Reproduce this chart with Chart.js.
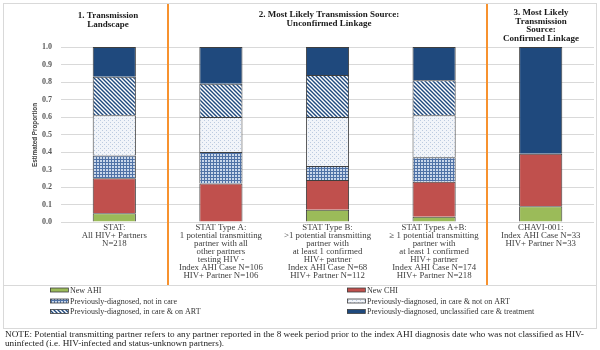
<!DOCTYPE html>
<html>
<head>
<meta charset="utf-8">
<script src="https://cdn.jsdelivr.net/npm/chart.js@4.4.1/dist/chart.umd.min.js"></script>
<style>
  html, body { margin: 0; padding: 0; background: #fff; }
  #wrap { position: relative; width: 600px; height: 350px; overflow: hidden; }
  #chart { position: absolute; left: 0; top: 0; }
  #note {
    position: absolute; left: 5px; top: 330px; width: 594px;
    font: 9.2px "Liberation Serif", "Times New Roman", serif;
    line-height: 8.5px; color: #222; white-space: nowrap;
  }
</style>
</head>
<body>
<div id="wrap">
  <canvas id="chart" width="600" height="330"></canvas>
  <div id="note">NOTE: Potential transmitting partner refers to any partner reported in the 8 week period prior to the index AHI diagnosis date who was not classified as HIV-<br>uninfected (i.e. HIV-infected and status-unknown partners).</div>
</div>
<script>
const categories = [
  ["STAT:", "All HIV+ Partners", "N=218"],
  ["STAT Type A:", "1 potential transmitting", "partner with all", "other partners", "testing HIV -", "Index AHI Case N=106", "HIV+ Partner N=106"],
  ["STAT Type B:", ">1 potential transmitting", "partner with", "at least 1 confirmed", "HIV+ partner", "Index AHI Case N=68", "HIV+ Partner N=112"],
  ["STAT Types A+B:", "\u2265 1 potential transmitting", "partner with", "at least 1 confirmed", "HIV+ partner", "Index AHI Case N=174", "HIV+ Partner N=218"],
  ["CHAVI-001:", "Index AHI Case N=33", "HIV+ Partner N=33"]
];

const newAHI       = [0.05, null, 0.07, 0.03, 0.09];
const newCHI       = [0.20, 0.22, 0.17, 0.20, 0.30];
const notInCare    = [0.13, 0.18, 0.08, 0.14, null];
const careNoART    = [0.23, 0.20, 0.28, 0.24, null];
const careOnART    = [0.22, 0.19, 0.24, 0.20, null];
const unclassified = [0.17, 0.21, 0.16, 0.19, 0.61];

const yTicks = [0, 0.1, 0.2, 0.3, 0.4, 0.5, 0.6, 0.7, 0.8, 0.9, 1.0];

const panelTitles = [
  { x: 108, y: 16, lines: ["1. Transmission", "Landscape"] },
  { x: 329, y: 15, lines: ["2. Most Likely Transmission Source:", "Unconfirmed Linkage"] },
  { x: 541, y: 13, lines: ["3. Most Likely", "Transmission", "Source:", "Confirmed Linkage"] }
];

const NAVY = "#1F497D";

// little tiles for the patterned fills
function makePattern(size, draw) {
  const c = document.createElement("canvas");
  c.width = size; c.height = size;
  const g = c.getContext("2d");
  draw(g, size);
  return g.createPattern(c, "repeat");
}

const gridFill = makePattern(3, (g) => {
  g.fillStyle = "#c9d7ea"; g.fillRect(0, 0, 3, 3);
  g.fillStyle = "#4f72a6"; g.fillRect(0, 0, 3, 1); g.fillRect(0, 0, 1, 3);
});

const dotFill = makePattern(4, (g) => {
  g.fillStyle = "#f1f4f9"; g.fillRect(0, 0, 4, 4);
  g.fillStyle = "#bccbe0"; g.fillRect(0, 0, 1, 1); g.fillRect(2, 2, 1, 1);
});

const stripeFill = makePattern(4, (g) => {
  g.fillStyle = "#ffffff"; g.fillRect(0, 0, 4, 4);
  g.strokeStyle = NAVY; g.lineWidth = 1.4;
  g.beginPath();
  g.moveTo(-1, -1); g.lineTo(5, 5);
  g.moveTo(-1, 3); g.lineTo(1, 5);
  g.moveTo(3, -1); g.lineTo(5, 1);
  g.stroke();
});

const seriesNames = [
  "New AHI", "New CHI",
  "Previously-diagnosed, not in care", "Previously-diagnosed, in care & not on ART",
  "Previously-diagnosed, in care & on ART", "Previously-diagnosed, unclassified care & treatment"
];
const seriesData = [newAHI, newCHI, notInCare, careNoART, careOnART, unclassified];
const seriesFills = ["#9BBB59", "#C0504D", gridFill, dotFill, stripeFill, NAVY];

const decor = {
  id: "decor",
  afterDraw(chart) {
    const ctx = chart.ctx;
    const xs = chart.scales.x;
    ctx.save();

    // frame and legend separator
    ctx.strokeStyle = "#d9d9d9";
    ctx.lineWidth = 1;
    ctx.strokeRect(3.5, 3.5, 593, 325);
    ctx.beginPath();
    ctx.moveTo(3, 285.5); ctx.lineTo(597, 285.5);
    ctx.stroke();

    // orange panel dividers
    ctx.strokeStyle = "#F7922F";
    ctx.lineWidth = 2;
    [0, 3].forEach((i) => {
      const px = Math.round((xs.getPixelForTick(i) + xs.getPixelForTick(i + 1)) / 2);
      ctx.beginPath();
      ctx.moveTo(px, 4); ctx.lineTo(px, 285);
      ctx.stroke();
    });

    // panel titles
    ctx.fillStyle = "#1a1a1a";
    ctx.font = "bold 9px 'Liberation Serif', serif";
    ctx.textAlign = "center";
    ctx.textBaseline = "middle";
    panelTitles.forEach((t) => {
      t.lines.forEach((l, k) => ctx.fillText(l, t.x, t.y + k * 8.5));
    });

    // y axis title
    ctx.save();
    ctx.translate(35, 135);
    ctx.rotate(-Math.PI / 2);
    ctx.font = "bold 6.3px 'Liberation Sans', sans-serif";
    ctx.fillStyle = "#404040";
    ctx.fillText("Estimated Proportion", 0, 0);
    ctx.restore();

    // legend, two columns
    ctx.font = "8px 'Liberation Serif', serif";
    ctx.textAlign = "left";
    chart.data.datasets.forEach((ds, i) => {
      const x = [50, 347][i % 2];
      const y = [290, 301, 311.5][Math.floor(i / 2)];
      ctx.fillStyle = ds.backgroundColor;
      ctx.fillRect(x, y - 2, 18, 4);
      ctx.strokeStyle = "#404040";
      ctx.lineWidth = 0.8;
      ctx.strokeRect(x + 0.5, y - 2, 18, 4);
      ctx.fillStyle = "#333";
      ctx.fillText(ds.label, x + 20, y + 0.5);
    });

    ctx.restore();
  }
};

new Chart(document.getElementById("chart"), {
  type: "bar",
  data: {
    labels: categories,
    datasets: seriesNames.map((name, i) => ({
      label: name,
      data: seriesData[i],
      backgroundColor: seriesFills[i],
      borderColor: "#3f3f3f",
      borderWidth: 1,
      barPercentage: 0.405,
      categoryPercentage: 1
    }))
  },
  options: {
    responsive: false,
    animation: false,
    layout: { padding: { top: 47, right: 6, left: 0, bottom: 0 } },
    plugins: {
      legend: { display: false },
      tooltip: { enabled: false }
    },
    scales: {
      x: {
        stacked: true,
        grid: { display: false, drawTicks: false },
        border: { display: false },
        afterFit: (s) => { s.height = 108; },
        ticks: {
          autoSkip: false,
          maxRotation: 0,
          padding: 2,
          color: "#404040",
          font: { family: "'Liberation Serif', serif", size: 8.8, lineHeight: 0.91 }
        }
      },
      y: {
        stacked: true,
        min: 0,
        max: 1,
        afterFit: (s) => { s.width = 61; },
        afterBuildTicks: (s) => { s.ticks = yTicks.map((v) => ({ value: v })); },
        grid: { color: "#d9d9d9", drawTicks: false },
        border: { display: false },
        ticks: {
          padding: 9,
          color: "#595959",
          font: { family: "'Liberation Serif', serif", size: 8, weight: "bold" },
          callback: (v) => v.toFixed(1)
        }
      }
    }
  },
  plugins: [decor]
});
</script>
</body>
</html>
